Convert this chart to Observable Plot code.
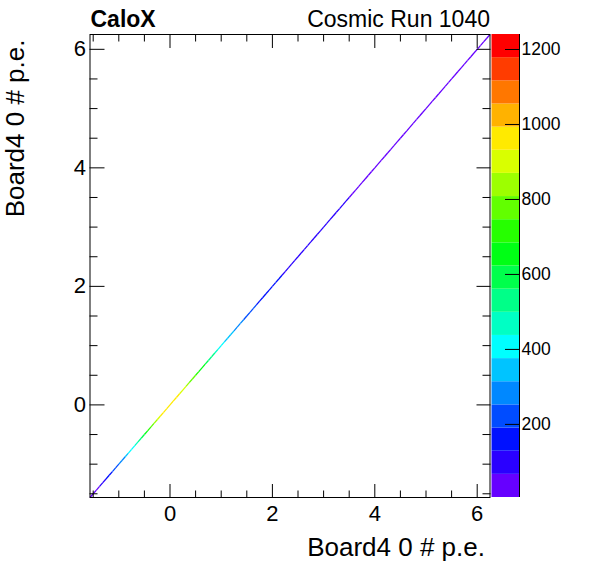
<!DOCTYPE html>
<html>
<head>
<meta charset="utf-8">
<script src="https://cdn.jsdelivr.net/npm/d3@7"></script>
<script src="https://cdn.jsdelivr.net/npm/@observablehq/plot@0.6"></script>
<style>
  html, body { margin: 0; padding: 0; background: white; }
  #wrap { position: relative; width: 596px; height: 572px; }
  #wrap svg { position: absolute; left: 0; top: 0; }
</style>
</head>
<body>
<div id="wrap"></div>
<script>
// ---- data ----
const titleLeft = "CaloX";
const titleRight = "Cosmic Run 1040";
const xTitle = "Board4 0 # p.e.";
const yTitle = "Board4 0 # p.e.";
const axisRange = [-1.5625, 6.25];
const binWidth = 0.0625;
// counts along the diagonal (x = y), one per bin, from low to high p.e.
const counts = [
  20, 45, 60, 85, 110, 140, 170, 200, 235, 270,
  300, 340, 380, 420, 460, 520, 580, 650, 720, 790,
  860, 910, 950, 975, 985, 980, 965, 940, 915, 880,
  840, 800, 760, 715, 670, 630, 590, 545, 500, 460,
  425, 395, 365, 340, 315, 295, 275, 255, 240, 225,
  210, 198, 188, 178, 168, 160, 152, 145, 138, 131,
  125, 119, 113, 108, 103, 99, 95, 92, 89, 86,
  84, 82, 80, 78, 76, 75, 73, 72, 70, 69,
  67, 66, 64, 62, 60, 58, 57, 55, 53, 52,
  50, 49, 47, 46, 45, 43, 42, 41, 40, 38,
  37, 36, 35, 34, 33, 32, 31, 30, 29, 28,
  27, 26, 25, 24, 23, 22, 21, 20, 19, 18,
  17, 16, 15, 14, 13
];
const zRange = [5, 1240];
const paletteColors = [
  "#6600ff", "#2a00ff", "#0011ff", "#004cff", "#0088ff",
  "#00c4ff", "#00ffff", "#00ffc4", "#00ff88", "#00ff4c",
  "#00ff15", "#26ff00", "#62ff00", "#9dff00", "#d9ff00",
  "#ffea00", "#ffb200", "#ff7700", "#ff3c00", "#ff0000"
];
const xMajorTicks = [0, 2, 4, 6];
const xMinorTicks = [-1.5, -1, -0.5, 0.5, 1, 1.5, 2.5, 3, 3.5, 4.5, 5, 5.5];
const yMajorTicks = [0, 2, 4, 6];
const yMinorTicks = [-1.5, -1, -0.5, 0.5, 1, 1.5, 2.5, 3, 3.5, 4.5, 5, 5.5];
const zTicks = [200, 400, 600, 800, 1000, 1200];

// ---- derived tables ----
const bins = counts.map((c, i) => ({
  lo: axisRange[0] + i * binWidth,
  hi: axisRange[0] + (i + 1) * binWidth,
  count: c
}));
const nLevels = paletteColors.length;
const zStep = (zRange[1] - zRange[0]) / nLevels;
const thresholds = d3.range(1, nLevels).map(k => zRange[0] + k * zStep);
const bands = d3.range(nLevels).map(k => ({
  lo: zRange[0] + k * zStep,
  hi: zRange[0] + (k + 1) * zStep,
  mid: zRange[0] + (k + 0.5) * zStep
}));
const colorScale = { type: "threshold", domain: thresholds, range: paletteColors };

const W = 596, H = 572;
const mL = 89.5, mR = 106.5, mT = 34, mB = 75;
const font = "'Liberation Sans', Arial, Helvetica, sans-serif";

const main = Plot.plot({
  width: W, height: H,
  marginLeft: mL, marginRight: mR, marginTop: mT, marginBottom: mB,
  style: { fontFamily: font, color: "black", background: "white" },
  x: { domain: axisRange, label: null },
  y: { domain: axisRange, label: null },
  color: colorScale,
  marks: [
    Plot.link(bins, { x1: "lo", y1: "lo", x2: "hi", y2: "hi", stroke: "count", strokeWidth: 1.3 }),
    Plot.frame({ stroke: "black", strokeWidth: 1 }),
    // bottom axis
    Plot.axisX({ anchor: "bottom", ticks: xMajorTicks, tickSize: -13, tickPadding: 21, fontSize: 22, label: null, tickFormat: d => String(d) }),
    Plot.axisX({ anchor: "bottom", ticks: xMinorTicks, tickSize: -6.5, tickFormat: () => "", label: null }),
    // top axis
    Plot.axisX({ anchor: "top", ticks: xMajorTicks, tickSize: -13, tickFormat: () => "", label: null }),
    Plot.axisX({ anchor: "top", ticks: xMinorTicks, tickSize: -6.5, tickFormat: () => "", label: null }),
    // left axis
    Plot.axisY({ anchor: "left", ticks: yMajorTicks, tickSize: -15, tickPadding: 19, fontSize: 22, label: null, tickFormat: d => String(d) }),
    Plot.axisY({ anchor: "left", ticks: yMinorTicks, tickSize: -8, tickFormat: () => "", label: null }),
    // right axis
    Plot.axisY({ anchor: "right", ticks: yMajorTicks, tickSize: -14, tickFormat: () => "", label: null }),
    Plot.axisY({ anchor: "right", ticks: yMinorTicks, tickSize: -8, tickFormat: () => "", label: null }),
    // titles
    Plot.text([titleLeft], { text: d => d, frameAnchor: "top-left", textAnchor: "start", lineAnchor: "bottom", dx: 0.5, dy: -7.3, fontSize: 23, fontWeight: "bold" }),
    Plot.text([titleRight], { text: d => d, frameAnchor: "top-right", textAnchor: "end", lineAnchor: "bottom", dx: 0, dy: -7.3, fontSize: 23 }),
    Plot.text([xTitle], { text: d => d, frameAnchor: "bottom-right", textAnchor: "end", lineAnchor: "bottom", dx: -5, dy: 58, fontSize: 26 }),
    Plot.text([yTitle], { text: d => d, frameAnchor: "top-left", textAnchor: "end", lineAnchor: "bottom", rotate: -90, dx: -66.5, dy: 5, fontSize: 26 })
  ]
});

const cbL = 491.5, cbR = 519;
const colorbar = Plot.plot({
  width: W, height: H,
  marginLeft: cbL, marginRight: W - cbR, marginTop: mT, marginBottom: mB,
  style: { fontFamily: font, color: "black", background: "transparent" },
  x: { domain: [0, 1], axis: null },
  y: { domain: zRange, label: null },
  color: colorScale,
  marks: [
    Plot.rect(bands, { x1: 0, x2: 1, y1: "lo", y2: "hi", fill: "mid" }),
    Plot.ruleX([1], { stroke: "black" }),
    Plot.axisY({ anchor: "right", ticks: zTicks, tickSize: -15, tickPadding: 17, fontSize: 17.5, label: null, tickFormat: d => String(d) })
  ]
});

const wrap = document.getElementById("wrap");
wrap.appendChild(main);
wrap.appendChild(colorbar);
</script>
</body>
</html>
